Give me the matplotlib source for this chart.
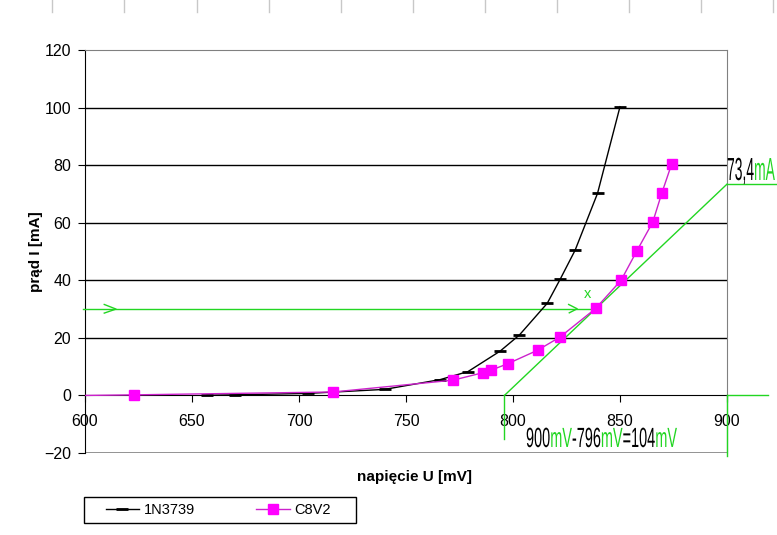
import matplotlib
matplotlib.use("Agg")
import matplotlib.pyplot as plt
from matplotlib.lines import Line2D
from matplotlib.patches import Rectangle
from matplotlib.patheffects import AbstractPathEffect
from matplotlib.text import Text
from matplotlib.transforms import Affine2D, Bbox

# dane
u_1n3739 = [657, 670, 704, 740, 766, 779, 794, 803, 816, 822, 829, 839.5, 850]
i_1n3739 = [0.1, 0.2, 0.7, 2.1, 5.5, 8.3, 15.4, 21, 32, 40.3, 50.4, 70.2, 100.3]

u_c8v2 = [600, 623, 716, 772, 786, 789.5, 797.5, 811.5, 822, 838.6, 850.5, 857.8, 865.3, 869.5, 874.1]
i_c8v2 = [0, 0.2, 1.2, 5.3, 7.9, 8.7, 11.0, 15.7, 20.3, 30.2, 40, 50.1, 60.2, 70.2, 80.3]

x_ticks = [600, 650, 700, 750, 800, 850, 900]
y_ticks = [-20, 0, 20, 40, 60, 80, 100, 120]

# styczna
u0 = 796
u1 = 900
i_t = 73.4
i_op = 30

plt.rcParams["font.family"] = ["Liberation Sans", "DejaVu Sans"]

W, H = 777, 535
fig = plt.figure(figsize=(W / 100, H / 100), dpi=100)
ax = fig.add_axes([85 / W, 1 - 453 / H, (727 - 85) / W, (453 - 50) / H])

green = "#22d622"
gray = "#808080"

ax.set_xlim(600, 900)
ax.set_ylim(-20, 120)

for y in [20, 40, 60, 80, 100]:
    ax.axhline(y, color="black", lw=1, zorder=1)

ax.plot(u_1n3739, i_1n3739, color="black", lw=1, marker="_", ms=9, mew=2, zorder=4, label="1N3739")
ax.plot(u_c8v2, i_c8v2, color="#cc22cc", lw=1, marker="s", ms=7, mfc="#ff00ff", mec="#ff00ff",
        markevery=list(range(1, len(u_c8v2))), zorder=5, label="C8V2")

# konstrukcja graficzna (zielone linie)
ax.plot([599, 838.6], [i_op, i_op], color=green, lw=1, clip_on=False, zorder=3)
ax.plot([609, 614.5, 609], [31.6, 30, 28.6], color=green, lw=1, zorder=3)
ax.plot([826, 830, 826.3], [31.6, 30.1, 28.7], color=green, lw=1, zorder=3)
ax.text(835, 35.4, "x", color=green, fontsize=10.5, ha="center", va="center")
ax.plot([u0, u1], [0, i_t], color=green, lw=1, clip_on=False, zorder=3)
ax.plot([u1, 924], [i_t, i_t], color=green, lw=1, clip_on=False, zorder=3)
ax.plot([u1, u1], [0, -21], color=green, lw=1, clip_on=False, zorder=3)
ax.plot([u1, 919], [0, 0], color=green, lw=1, clip_on=False, zorder=3)
ax.plot([u0, u0], [0, -15], color=green, lw=1, clip_on=False, zorder=3)

ax.spines["bottom"].set_position(("data", 0))
ax.spines["bottom"].set_color("black")
ax.spines["left"].set_color("black")
ax.spines["top"].set_color(gray)
ax.spines["right"].set_color(gray)
ax.axhline(-20, color=gray, lw=1.2, zorder=2)

ax.set_xticks(x_ticks)
ax.set_yticks(y_ticks)
ax.tick_params(axis="x", direction="out", length=5, pad=8.5, labelsize=11.5)
ax.tick_params(axis="y", direction="out", length=5, pad=5, labelsize=11.5)

ax.set_ylabel("prąd I [mA]", fontsize=11, fontweight="bold", labelpad=1)
fig.text(414 / W, 1 - 477 / H, "napięcie U [mV]", fontsize=11, fontweight="bold", ha="center", va="center")

# legenda
fig.add_artist(Rectangle((84 / W, 1 - 523 / H), 272 / W, 26 / H, transform=fig.transFigure,
                         fill=False, edgecolor="black", lw=1))
ax.legend(loc="center", bbox_to_anchor=(218 / W, 1 - 510 / H), bbox_transform=fig.transFigure,
          ncol=2, frameon=False, fontsize=10.5, handlelength=2.3, handletextpad=0.3, columnspacing=4.2)

# naglowek arkusza
for px in [52, 124, 197, 269, 341, 413, 485, 557, 629, 701, 773]:
    fig.add_artist(Line2D([px / W, px / W], [1, 1 - 12 / H], transform=fig.transFigure, color="#c8c8c8", lw=1))


class Squash(AbstractPathEffect):
    # waski napis jak w Excelu (sciesniony w poziomie)
    def __init__(self, sx, x0):
        super().__init__()
        self.sx = sx
        self.x0 = x0

    def draw_path(self, renderer, gc, tpath, affine, rgbFace=None):
        a = affine + Affine2D().translate(-self.x0, 0).scale(self.sx, 1).translate(self.x0, 0)
        renderer.draw_path(gc, tpath, a, rgbFace)


class NarrowText(Text):
    sx = 1.0

    def get_window_extent(self, renderer=None, dpi=None):
        bb = super().get_window_extent(renderer, dpi)
        return Bbox.from_extents(bb.x0, bb.y0, bb.x0 + bb.width * self.sx, bb.y1)


def mixed(x, y, parts, size, width):
    r = fig.canvas.get_renderer()
    texts = []
    for s, c in parts:
        t = NarrowText(0, 1 - y / H, s, color=c, fontsize=size, va="baseline", transform=fig.transFigure)
        fig.add_artist(t)
        texts.append(t)
    widths = [t.get_window_extent(r).width for t in texts]
    sx = width / sum(widths)
    for t, w in zip(texts, widths):
        t.set_x(x / W)
        t.sx = sx
        t.set_path_effects([Squash(sx, x)])
        x += w * sx


mixed(727, 180, [("73,4", "black"), ("mA", green)], 23, 48)
mixed(526, 447, [("900", "black"), ("mV", green), ("-796", "black"), ("mV", green),
                 ("=104", "black"), ("mV", green)], 20, 151)

fig.savefig("out.png", dpi=100)
